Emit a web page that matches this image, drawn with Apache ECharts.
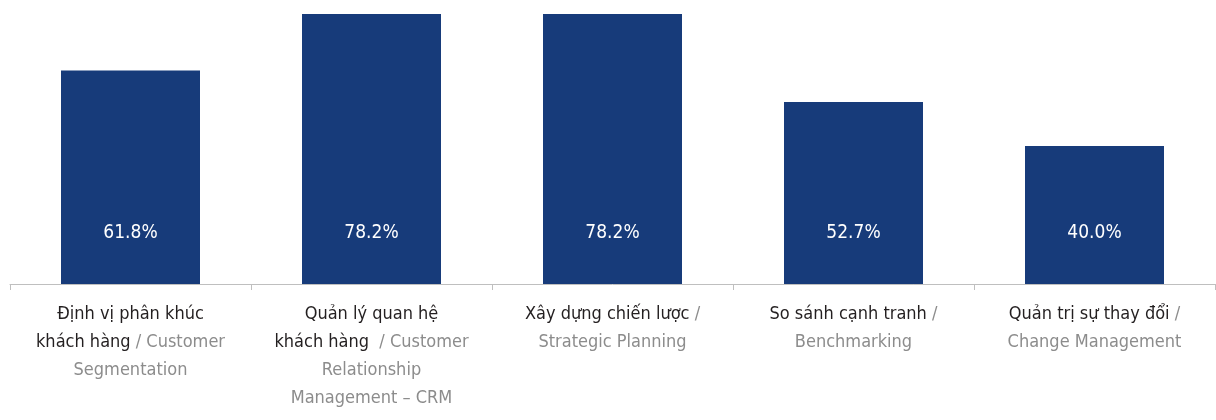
<!DOCTYPE html>
<html>
<head>
<meta charset="utf-8">
<script src="https://cdn.jsdelivr.net/npm/echarts@6/dist/echarts.min.js"></script>
<style>
  html, body { margin: 0; padding: 0; background: #ffffff; }
  #chart { width: 1216px; height: 420px; }
</style>
</head>
<body>
<div id="chart"></div>
<script>
// Share of respondents per management tool (%)
const categories = [
  'Customer Segmentation',
  'CRM',
  'Strategic Planning',
  'Benchmarking',
  'Change Management'
];
const values = [61.8, 78.2, 78.2, 52.7, 40.0];

// Axis label lines: each line is a list of [style, text] pieces (v = Vietnamese, e = English)
const labelLines = [
  [[['v', 'Định vị phân khúc']], [['v', 'khách hàng'], ['e', ' / Customer']], [['e', 'Segmentation']]],
  [[['v', 'Quản lý quan hệ']], [['v', 'khách hàng'], ['e', '  / Customer']], [['e', 'Relationship']], [['e', 'Management – CRM']]],
  [[['v', 'Xây dựng chiến lược'], ['e', ' /']], [['e', 'Strategic Planning']]],
  [[['v', 'So sánh cạnh tranh'], ['e', ' /']], [['e', 'Benchmarking']]],
  [[['v', 'Quản trị sự thay đổi'], ['e', ' /']], [['e', 'Change Management']]]
];

const FONT = "'Liberation Sans Narrow', 'DejaVu Sans Condensed', 'Roboto Condensed', sans-serif";

function buildLabel(idx) {
  return labelLines[idx]
    .map(line => line.map(([s, t]) => '{' + s + '|' + t + '}').join(''))
    .join('\n');
}

const chart = echarts.init(document.getElementById('chart'), null, { renderer: 'canvas' });

chart.setOption({
  animation: false,
  backgroundColor: '#ffffff',
  grid: { left: 10, right: 1, top: 14, bottom: 136, containLabel: false },
  xAxis: {
    type: 'category',
    data: categories,
    axisLine: { show: true, lineStyle: { color: '#bfbfbf', width: 1 } },
    axisTick: { show: true, length: 6, lineStyle: { color: '#bfbfbf' } },
    axisLabel: {
      interval: 0,
      margin: 16,
      formatter: (v, i) => buildLabel(i),
      rich: {
        v: { fontFamily: FONT, fontSize: 18, color: '#231f20', lineHeight: 28 },
        e: { fontFamily: FONT, fontSize: 18, color: '#8c8c8c', lineHeight: 28 }
      }
    }
  },
  yAxis: {
    type: 'value',
    min: 0,
    max: 78.2,
    show: false,
    splitLine: { show: false }
  },
  series: [{
    type: 'bar',
    data: values,
    barWidth: 139,
    itemStyle: { color: '#173b7a' },
    label: {
      show: true,
      position: 'insideBottom',
      distance: 41,
      formatter: p => p.value.toFixed(1) + '%',
      color: '#ffffff',
      fontFamily: FONT,
      fontSize: 19
    }
  }]
});
</script>
</body>
</html>
